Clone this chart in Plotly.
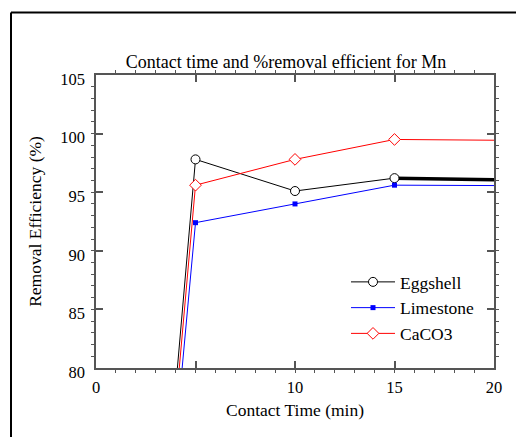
import plotly.graph_objects as go

# Data
time_min = [0, 5, 10, 15, 30]
eggshell = [0, 97.8, 95.1, 96.2, 95.8]
limestone = [0, 92.4, 94.0, 95.6, 95.5]
caco3 = [0, 95.6, 97.8, 99.5, 99.3]

x_tickvals = [0, 5, 10, 15, 20]
x_ticktext = ["0", "", "10", "15", "20"]
y_tickvals = [80, 85, 90, 95, 100, 105]

FONT = "Liberation Serif, Times New Roman, serif"
OFF = 8  # page body margin
W, H = 524 - 2 * OFF, 445 - 2 * OFF
# reference pixel positions of the plot area
PL, PR, PT, PB = 96, 494, 75, 368
L, T = PL - OFF, PT - OFF
R, B = W - (PR - OFF), H - (PB - OFF)

fig = go.Figure()

# thick last segment of the Eggshell series
fig.add_trace(go.Scatter(
    x=time_min[3:], y=eggshell[3:], mode="lines",
    line=dict(color="black", width=3.5), showlegend=False, hoverinfo="skip"))

fig.add_trace(go.Scatter(
    x=time_min, y=eggshell, name="Eggshell", mode="lines+markers",
    line=dict(color="black", width=1),
    marker=dict(symbol="circle", size=9, color="white",
                line=dict(color="black", width=1))))
fig.add_trace(go.Scatter(
    x=time_min, y=limestone, name="Limestone", mode="lines+markers",
    line=dict(color="#0000ff", width=1),
    marker=dict(symbol="square", size=5, color="#0000ff",
                line=dict(color="#0000ff", width=0))))
fig.add_trace(go.Scatter(
    x=time_min, y=caco3, name="CaCO3", mode="lines+markers",
    line=dict(color="#ff0000", width=1),
    marker=dict(symbol="diamond", size=9, color="white",
                line=dict(color="#ff0000", width=1))))

axis_common = dict(
    showgrid=False, zeroline=False, showline=True,
    linecolor="#555555", linewidth=1.5, mirror="ticks",
    ticks="inside", ticklen=7, tickwidth=1.5, tickcolor="#555555",
    tickfont=dict(family=FONT, size=16.5, color="black"),
)

fig.update_xaxes(
    range=[0, 20], tickmode="array", tickvals=x_tickvals, ticktext=x_ticktext,
    ticklabelstandoff=3,
    minor=dict(dtick=1, ticks="outside", ticklen=3, tickwidth=1.2,
               tickcolor="#555555"),
    title=dict(text="Contact Time (min)", font=dict(family=FONT, size=17.5, color="black"),
               standoff=8),
    **axis_common)
fig.update_yaxes(
    range=[80, 105], tickmode="array", tickvals=y_tickvals,
    ticklabelstandoff=6, ticklabelshift=4,
    minor=dict(dtick=1, ticks="outside", ticklen=3, tickwidth=1.2,
               tickcolor="#555555"),
    title=dict(text="Removal Efficiency (%)", font=dict(family=FONT, size=17.5, color="black"),
               standoff=14),
    **axis_common)

pw, ph = W - L - R, H - T - B
def px(xp):  # reference x pixel -> paper coordinate
    return (xp - PL) / pw
def py(yp):  # reference y pixel -> paper coordinate
    return (PB - yp) / ph

frame = dict(color="black", width=2)
fig.update_layout(
    width=W, height=H,
    margin=dict(l=L, r=R, t=T, b=B, autoexpand=False),
    paper_bgcolor="white", plot_bgcolor="white",
    font=dict(family=FONT, size=16, color="black"),
    title=dict(text="Contact time and %removal efficient for Mn",
               x=(286 - OFF) / W, xanchor="center", xref="container",
               y=1 - (62 - OFF) / H, yanchor="middle", yref="container",
               font=dict(family=FONT, size=18, color="black")),
    legend=dict(x=px(346), y=py(264), xanchor="left", yanchor="top",
                itemwidth=44,
                bgcolor="rgba(0,0,0,0)", borderwidth=0,
                font=dict(family=FONT, size=17.5, color="black")),
    shapes=[
        dict(type="line", xref="paper", yref="paper",
             x0=px(11), y0=py(12.5), x1=px(W + OFF), y1=py(12.5), line=frame),
        dict(type="line", xref="paper", yref="paper",
             x0=px(11), y0=py(12.5), x1=px(11), y1=py(H + OFF), line=frame),
    ],
)

fig.write_html("out.html")
